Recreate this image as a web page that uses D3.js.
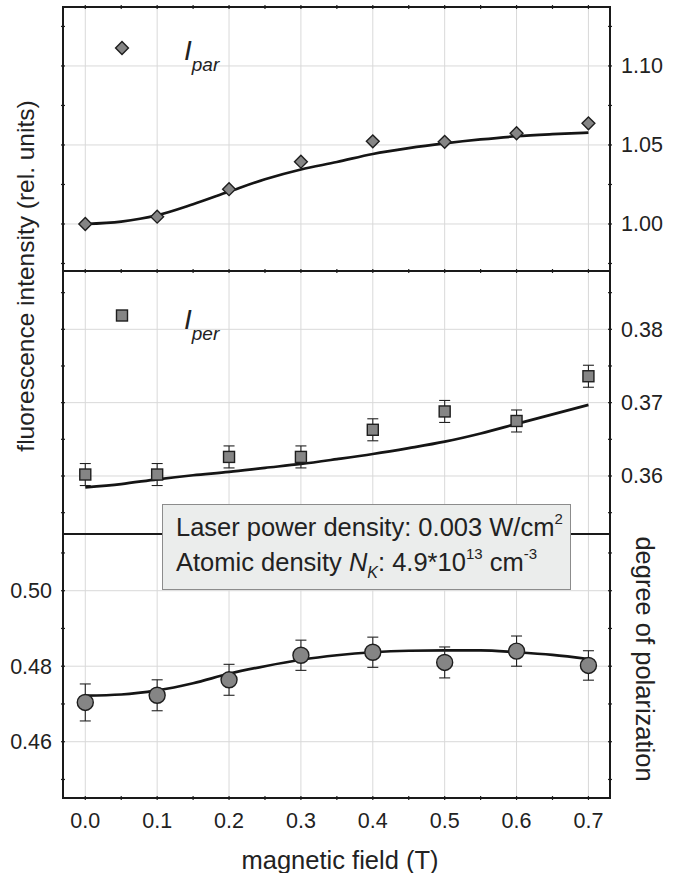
<!DOCTYPE html>
<html>
<head>
<meta charset="utf-8">
<script src="https://cdn.jsdelivr.net/npm/d3@7"></script>
<style>
  html, body { margin: 0; padding: 0; background: #fff; }
  svg { display: block; font-family: "Liberation Sans", Arial, Helvetica, sans-serif; }
</style>
</head>
<body>
<svg id="chart" width="678" height="873"></svg>
<script>
// ---------- data ----------
const fieldValues = [0.0, 0.1, 0.2, 0.3, 0.4, 0.5, 0.6, 0.7];
const parValues = [1.000, 1.0046, 1.022, 1.0394, 1.0523, 1.052, 1.0574, 1.0637];
const perValues = [0.3602, 0.3602, 0.3626, 0.3626, 0.3663, 0.3688, 0.3675, 0.3736];
const perErrors = [0.0015, 0.0015, 0.0015, 0.0015, 0.0015, 0.0015, 0.0015, 0.0015];
const polValues = [0.4704, 0.4723, 0.4764, 0.4829, 0.4837, 0.4810, 0.4840, 0.4802];
const polErrors = [0.0049, 0.0041, 0.0041, 0.0040, 0.0040, 0.0041, 0.0040, 0.0039];

const fitField = [0.0, 0.05, 0.1, 0.15, 0.2, 0.25, 0.3, 0.35, 0.4, 0.45, 0.5, 0.55, 0.6, 0.65, 0.7];
const parFit = [1.000, 1.0015, 1.0055, 1.0125, 1.0205, 1.0283, 1.0345, 1.0392, 1.0443, 1.048, 1.051, 1.0535, 1.0555, 1.0568, 1.0578];
const perFit = [0.35845, 0.3589, 0.35955, 0.3601, 0.36055, 0.3611, 0.36164, 0.3623, 0.3630, 0.3638, 0.36468, 0.3658, 0.3671, 0.3684, 0.3697];
const polFit = [0.4722, 0.4725, 0.4736, 0.4755, 0.4780, 0.4800, 0.4817, 0.4829, 0.4837, 0.4841, 0.4842, 0.4842, 0.4837, 0.4830, 0.4819];

const xTicks = [0.0, 0.1, 0.2, 0.3, 0.4, 0.5, 0.6, 0.7];
const xMinorTicks = [0.05, 0.15, 0.25, 0.35, 0.45, 0.55, 0.65];
const parTicks = [1.00, 1.05, 1.10];
const parMinor = [0.975, 1.025, 1.075, 1.125];
const perTicks = [0.36, 0.37, 0.38];
const perMinor = [0.355, 0.365, 0.375, 0.385];
const polTicks = [0.46, 0.48, 0.50];
const polMinor = [0.45, 0.47, 0.49, 0.51];

// ---------- layout ----------
const L = 63, R = 610, T = 7, D1 = 271, D2 = 534, B = 798;
const svg = d3.select("#chart");

const x = d3.scaleLinear().domain([-0.031, 0.730]).range([L, R]);
const yPar = d3.scaleLinear().domain([0.97025, 1.1373]).range([D1, T]);
const yPer = d3.scaleLinear().domain([0.35209, 0.38795]).range([D2, D1]);
const yPol = d3.scaleLinear().domain([0.44509, 0.51502]).range([B, D2]);

const gridColor = "#d9d9d9";
const markFill = "#858585";
const markStroke = "#1e1e1e";

// grid
const grid = svg.append("g");
grid.selectAll("line.gx").data(xTicks).join("line")
  .attr("x1", d => x(d)).attr("x2", d => x(d)).attr("y1", T).attr("y2", B)
  .attr("stroke", gridColor).attr("stroke-width", 1);
function hGrid(scale, ticks) {
  grid.selectAll(null).data(ticks).join("line")
    .attr("x1", L).attr("x2", R).attr("y1", d => scale(d)).attr("y2", d => scale(d))
    .attr("stroke", gridColor).attr("stroke-width", 1);
}
hGrid(yPar, parTicks); hGrid(yPer, perTicks); hGrid(yPol, polTicks);

// ticks (tiny marks on frame)
const tk = svg.append("g").attr("stroke", "#222").attr("stroke-width", 1.2);
function yTickMarks(scale, ticks) {
  ticks.forEach(v => {
    [L, R].forEach(px => {
      tk.append("line").attr("x1", px - 2).attr("x2", px + 2)
        .attr("y1", scale(v)).attr("y2", scale(v));
    });
  });
}
yTickMarks(yPar, parTicks.concat(parMinor));
yTickMarks(yPer, perTicks.concat(perMinor));
yTickMarks(yPol, polTicks.concat(polMinor));
xTicks.concat(xMinorTicks).forEach(v => {
  [T, D1, B].forEach(py => {
    tk.append("line").attr("x1", x(v)).attr("x2", x(v)).attr("y1", py - 2).attr("y2", py + 2);
  });
});

// frame
svg.append("rect").attr("x", L).attr("y", T).attr("width", R - L).attr("height", B - T)
  .attr("fill", "none").attr("stroke", "#1a1a1a").attr("stroke-width", 2);
svg.append("line").attr("x1", L).attr("x2", R).attr("y1", D1).attr("y2", D1)
  .attr("stroke", "#1a1a1a").attr("stroke-width", 2);
svg.append("line").attr("x1", L).attr("x2", R).attr("y1", D2).attr("y2", D2)
  .attr("stroke", "#1a1a1a").attr("stroke-width", 2);

// fit curves
function fitLine(scale, vals) {
  const line = d3.line().x(d => x(d[0])).y(d => scale(d[1])).curve(d3.curveMonotoneX);
  svg.append("path").datum(fitField.map((f, i) => [f, vals[i]]))
    .attr("d", line).attr("fill", "none").attr("stroke", "#151515").attr("stroke-width", 2.7);
}
fitLine(yPar, parFit);
fitLine(yPer, perFit);
fitLine(yPol, polFit);

// error bars
function errBars(scale, vals, errs) {
  const g = svg.append("g").attr("stroke", "#222").attr("stroke-width", 1.1);
  fieldValues.forEach((f, i) => {
    const cx = x(f), y1 = scale(vals[i] + errs[i]), y2 = scale(vals[i] - errs[i]);
    g.append("line").attr("x1", cx).attr("x2", cx).attr("y1", y1).attr("y2", y2);
    g.append("line").attr("x1", cx - 5.5).attr("x2", cx + 5.5).attr("y1", y1).attr("y2", y1);
    g.append("line").attr("x1", cx - 5.5).attr("x2", cx + 5.5).attr("y1", y2).attr("y2", y2);
  });
}
errBars(yPer, perValues, perErrors);
errBars(yPol, polValues, polErrors);

// markers
const diamond = d3.symbol().type(d3.symbolDiamond2).size(105);
svg.append("g").selectAll("path").data(fieldValues).join("path")
  .attr("d", diamond)
  .attr("transform", (d, i) => `translate(${x(d)},${yPar(parValues[i])})`)
  .attr("fill", markFill).attr("stroke", markStroke).attr("stroke-width", 1.4);
svg.append("g").selectAll("rect").data(fieldValues).join("rect")
  .attr("x", d => x(d) - 5.5).attr("y", (d, i) => yPer(perValues[i]) - 5.5)
  .attr("width", 11).attr("height", 11)
  .attr("fill", markFill).attr("stroke", markStroke).attr("stroke-width", 1.4);
svg.append("g").selectAll("circle").data(fieldValues).join("circle")
  .attr("cx", d => x(d)).attr("cy", (d, i) => yPol(polValues[i])).attr("r", 8)
  .attr("fill", markFill).attr("stroke", markStroke).attr("stroke-width", 1.4);

// legends
svg.append("path").attr("d", diamond).attr("transform", "translate(122,48)")
  .attr("fill", markFill).attr("stroke", markStroke).attr("stroke-width", 1.4);
svg.append("rect").attr("x", 116.5).attr("y", 310).attr("width", 11).attr("height", 11)
  .attr("fill", markFill).attr("stroke", markStroke).attr("stroke-width", 1.4);
function legendLabel(yb, sub) {
  const t = svg.append("text").attr("x", 184).attr("y", yb).attr("fill", "#222")
    .attr("font-style", "italic");
  t.append("tspan").attr("font-size", 28).text("I");
  t.append("tspan").attr("font-size", 19).attr("dx", 0).attr("dy", 11).text(sub);
}
legendLabel(59.5, "par");
legendLabel(329, "per");

// axis tick labels
const lab = svg.append("g").attr("font-size", 21.5).attr("fill", "#222");
function rightLabels(scale, ticks) {
  lab.selectAll(null).data(ticks).join("text")
    .attr("x", 621).attr("y", d => scale(d) + 7.5)
    .text(d => d.toFixed(2));
}
rightLabels(yPar, parTicks);
rightLabels(yPer, perTicks);
lab.selectAll(null).data(polTicks).join("text")
  .attr("x", 52).attr("y", d => yPol(d) + 7.5).attr("text-anchor", "end")
  .text(d => d.toFixed(2));
lab.selectAll(null).data(xTicks).join("text")
  .attr("x", d => x(d)).attr("y", 828).attr("text-anchor", "middle")
  .text(d => d.toFixed(1));

// axis titles
svg.append("text").attr("transform", "translate(340,869)").attr("text-anchor", "middle")
  .attr("font-size", 25.5).attr("fill", "#222").text("magnetic field (T)");
svg.append("text").attr("transform", "translate(34,276) rotate(-90)").attr("text-anchor", "middle")
  .attr("font-size", 24.5).attr("fill", "#222").text("fluorescence intensity (rel. units)");
svg.append("text").attr("transform", "translate(636,659) rotate(90)").attr("text-anchor", "middle")
  .attr("font-size", 25.5).attr("fill", "#222").text("degree of polarization");

// info box
svg.append("rect").attr("x", 162.5).attr("y", 504.5).attr("width", 408).attr("height", 85)
  .attr("fill", "#ebedec").attr("stroke", "#8c8c8c").attr("stroke-width", 1);
const t1 = svg.append("text").attr("x", 176).attr("y", 536).attr("font-size", 25.5).attr("fill", "#222");
t1.append("tspan").text("Laser power density: 0.003 W/cm");
t1.append("tspan").attr("font-size", 15).attr("dy", -12).text("2");
const t2 = svg.append("text").attr("x", 176).attr("y", 571).attr("font-size", 25.5).attr("fill", "#222");
t2.append("tspan").text("Atomic density ");
t2.append("tspan").attr("font-style", "italic").text("N");
t2.append("tspan").attr("font-style", "italic").attr("font-size", 16).attr("dy", 7).text("K");
t2.append("tspan").attr("dy", -7).text(": 4.9*10");
t2.append("tspan").attr("font-size", 15).attr("dy", -12).text("13");
t2.append("tspan").attr("dy", 12).text(" cm");
t2.append("tspan").attr("font-size", 15).attr("dy", -12).text("-3");
</script>
</body>
</html>
